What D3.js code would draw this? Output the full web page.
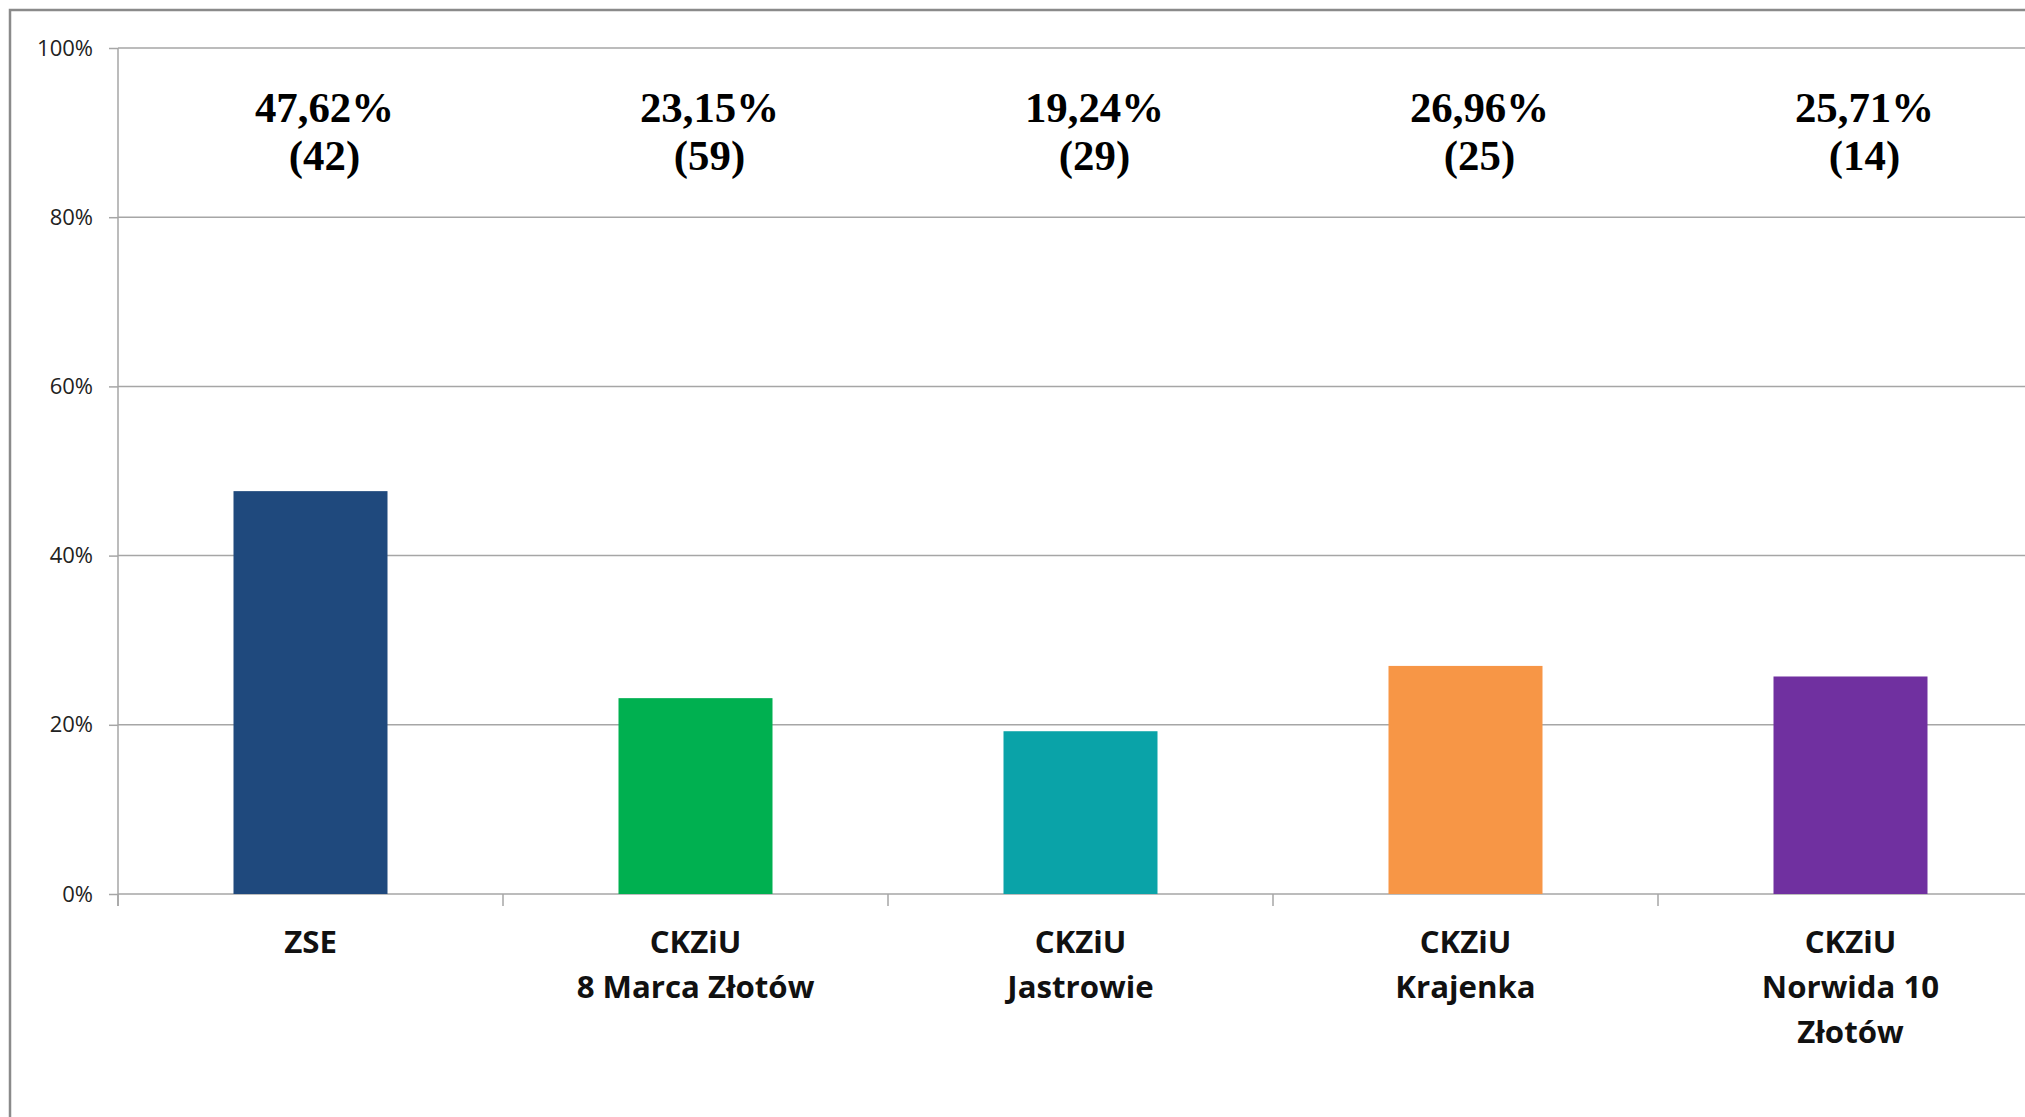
<!DOCTYPE html>
<html lang="pl">
<head>
    <meta charset="UTF-8">
    <title>Szkoły</title>
    <script src="https://d3js.org/d3.v7.min.js" charset="utf-8"></script>
    <style>
        body {
            margin: 0;
            background: white;
            overflow: hidden;
        }
        .tick text {
            font-family: "Open Sans", sans-serif;
        }
    </style>
</head>
<body>
    <script>
        // data
        var schools = ["ZSE", "CKZiU\n8 Marca Złotów", "CKZiU\nJastrowie", "CKZiU\nKrajenka", "CKZiU\nNorwida 10\nZłotów"];
        var percents = [47.62, 23.15, 19.24, 26.96, 25.71];
        var counts = [42, 59, 29, 25, 14];
        var colors = ["#1F497D", "#00B050", "#0AA3A8", "#F79646", "#7030A0"];
        var yTicks = [0, 20, 40, 60, 80, 100];

        var width = 2025;
        var height = 1117;

        // plot area (runs off the right edge like in the original)
        var plotLeft = 118, plotTop = 48, plotBottom = 894;
        var step = 385;

        var svg = d3.select("body")
                    .append("svg")
                    .attr("width", width)
                    .attr("height", height);

        // outer chart border
        svg.append("rect")
            .attr("x", 10).attr("y", 10)
            .attr("width", 2200).attr("height", 1300)
            .attr("fill", "white")
            .attr("stroke", "#8a8a8a")
            .attr("stroke-width", 2.5);

        var x = d3.scaleBand()
            .domain(schools)
            .range([plotLeft, plotLeft + step * schools.length])
            .paddingInner(0.6)
            .paddingOuter(0.3);

        var y = d3.scaleLinear()
            .domain([0, 100])
            .range([plotBottom, plotTop]);

        // horizontal gridlines
        svg.append("g")
            .selectAll("line")
            .data(yTicks)
            .enter()
            .append("line")
            .attr("x1", plotLeft).attr("x2", width)
            .attr("y1", function (d) { return y(d); })
            .attr("y2", function (d) { return y(d); })
            .attr("stroke", "#a6a6a6")
            .attr("stroke-width", 1.5);

        // y axis
        var yAxis = svg.append("g")
            .attr("transform", "translate(" + plotLeft + ",0)")
            .call(d3.axisLeft(y)
                .tickValues(yTicks)
                .tickSize(9)
                .tickPadding(16)
                .tickFormat(function (d) { return d + "%"; }));
        yAxis.selectAll("text")
            .attr("font-size", 22)
            .attr("fill", "#222");
        yAxis.selectAll("line").attr("stroke", "#a6a6a6").attr("stroke-width", 1.5);
        yAxis.select(".domain").attr("stroke", "#a6a6a6").attr("stroke-width", 1.5)
            .attr("d", "M0," + plotTop + "V" + (plotBottom + 12));

        // x axis tick marks at category boundaries
        svg.append("g")
            .selectAll("line")
            .data(d3.range(schools.length + 1))
            .enter()
            .append("line")
            .attr("x1", function (i) { return plotLeft + i * x.step(); })
            .attr("x2", function (i) { return plotLeft + i * x.step(); })
            .attr("y1", plotBottom)
            .attr("y2", plotBottom + 12)
            .attr("stroke", "#a6a6a6")
            .attr("stroke-width", 1.5);

        // bars
        svg.append("g")
            .selectAll("rect")
            .data(schools)
            .enter()
            .append("rect")
            .attr("x", function (d) { return x(d); })
            .attr("y", function (d, i) { return y(percents[i]); })
            .attr("width", x.bandwidth())
            .attr("height", function (d, i) { return plotBottom - y(percents[i]); })
            .attr("fill", function (d, i) { return colors[i]; });

        // category labels
        var catLabels = svg.append("g")
            .selectAll("text")
            .data(schools)
            .enter()
            .append("text")
            .attr("text-anchor", "middle")
            .attr("font-family", "'Open Sans', sans-serif")
            .attr("font-weight", "bold")
            .attr("font-size", 30)
            .attr("fill", "#111")
            .attr("transform", function (d) {
                return "translate(" + (x(d) + x.bandwidth() / 2) + ",953) scale(1.04,1)";
            });
        catLabels.selectAll("tspan")
            .data(function (d) { return d.split("\n"); })
            .enter()
            .append("tspan")
            .attr("x", 0)
            .attr("y", function (d, i) { return i * 45; })
            .text(function (d) { return d; });

        // value labels at the top, percent + count in brackets
        var valLabels = svg.append("g")
            .selectAll("text")
            .data(schools)
            .enter()
            .append("text")
            .attr("text-anchor", "middle")
            .attr("font-family", "'Liberation Serif', 'Times New Roman', serif")
            .attr("font-weight", "bold")
            .attr("font-size", 42)
            .attr("fill", "#000")
            .attr("transform", function (d) {
                return "translate(" + (x(d) + x.bandwidth() / 2 + 14) + ",122) scale(1.02,1)";
            });
        valLabels.append("tspan")
            .attr("x", 0).attr("y", 0)
            .text(function (d, i) { return percents[i].toFixed(2).replace(".", ",") + "%"; });
        valLabels.append("tspan")
            .attr("x", 0).attr("y", 48)
            .text(function (d, i) { return "(" + counts[i] + ")"; });
    </script>
</body>
</html>
